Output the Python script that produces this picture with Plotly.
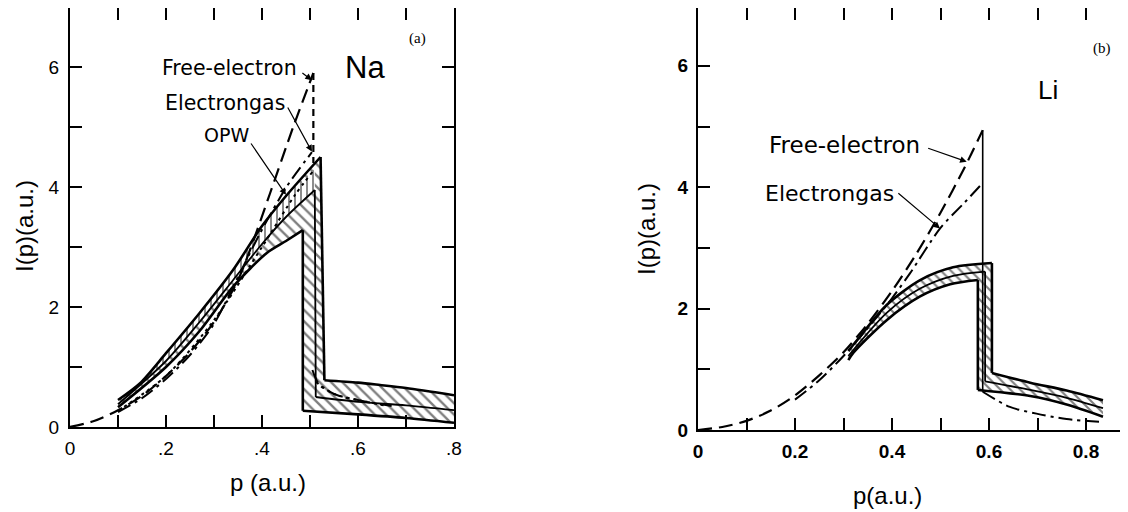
import plotly.graph_objects as go

# ---------------- data: (a) Na ----------------
na_free_p = [0, 0.05, 0.10, 0.15, 0.20, 0.25, 0.30, 0.35, 0.375, 0.417, 0.465, 0.507]
na_free_I = [0, 0.10, 0.28, 0.52, 0.85, 1.25, 1.75, 2.45, 2.95, 3.90, 5.00, 5.90]
na_free_drop_p = [0.507, 0.507]
na_free_drop_I = [5.90, 4.40]

na_egas_p = [0.10, 0.15, 0.20, 0.25, 0.30, 0.35, 0.396, 0.451, 0.504]
na_egas_I = [0.25, 0.48, 0.80, 1.20, 1.72, 2.50, 3.23, 4.00, 4.58]
na_egas_tail_p = [0.505, 0.52, 0.56, 0.62, 0.67]
na_egas_tail_I = [0.95, 0.70, 0.52, 0.42, 0.35]

na_opw_p = [0.10, 0.20, 0.30, 0.40, 0.469, 0.505]
na_opw_I = [0.27, 0.85, 1.78, 3.00, 3.87, 4.25]
na_opw_tail_p = [0.512, 0.55, 0.60, 0.66]
na_opw_tail_I = [0.75, 0.55, 0.45, 0.35]

na_upper_p = [0.10, 0.146, 0.20, 0.27, 0.34, 0.40, 0.45, 0.522]
na_upper_I = [0.45, 0.73, 1.23, 1.90, 2.62, 3.35, 3.85, 4.50]
na_middle_p = [0.10, 0.20, 0.27, 0.34, 0.40, 0.45, 0.51]
na_middle_I = [0.38, 1.10, 1.75, 2.45, 3.05, 3.50, 3.95]
na_lower_p = [0.10, 0.20, 0.27, 0.34, 0.41, 0.45, 0.485]
na_lower_I = [0.33, 1.00, 1.60, 2.34, 2.90, 3.10, 3.28]

na_tail_up_p = [0.53, 0.60, 0.646, 0.70, 0.80]
na_tail_up_I = [0.78, 0.74, 0.70, 0.65, 0.53]
na_tail_mid_p = [0.512, 0.60, 0.70, 0.80]
na_tail_mid_I = [0.50, 0.42, 0.36, 0.28]
na_tail_low_p = [0.485, 0.60, 0.70, 0.80]
na_tail_low_I = [0.27, 0.21, 0.15, 0.07]

# ---------------- data: (b) Li ----------------
li_free_p = [0, 0.05, 0.10, 0.15, 0.20, 0.25, 0.30, 0.35, 0.40, 0.45, 0.50, 0.55, 0.587]
li_free_I = [0, 0.05, 0.15, 0.32, 0.57, 0.90, 1.28, 1.75, 2.29, 2.90, 3.58, 4.33, 4.94]
li_drop_p = [0.587, 0.587]
li_drop_I = [4.94, 0.63]

li_egas_p = [0.20, 0.25, 0.30, 0.35, 0.40, 0.437, 0.50, 0.55, 0.587]
li_egas_I = [0.50, 0.82, 1.22, 1.68, 2.17, 2.58, 3.33, 3.75, 4.07]
li_egas_tail_p = [0.587, 0.643, 0.698, 0.76, 0.835]
li_egas_tail_I = [0.63, 0.38, 0.27, 0.18, 0.13]

li_upper_p = [0.31, 0.334, 0.389, 0.458, 0.526, 0.606]
li_upper_I = [1.30, 1.54, 2.06, 2.47, 2.68, 2.75]
li_middle_p = [0.31, 0.389, 0.458, 0.526, 0.592]
li_middle_I = [1.22, 1.93, 2.33, 2.54, 2.61]
li_lower_p = [0.31, 0.32, 0.389, 0.458, 0.52, 0.577]
li_lower_I = [1.15, 1.27, 1.81, 2.20, 2.40, 2.47]

li_tail_up_p = [0.606, 0.685, 0.76, 0.835]
li_tail_up_I = [0.94, 0.78, 0.65, 0.49]
li_tail_mid_p = [0.592, 0.685, 0.76, 0.835]
li_tail_mid_I = [0.80, 0.66, 0.53, 0.36]
li_tail_low_p = [0.577, 0.685, 0.76, 0.835]
li_tail_low_I = [0.66, 0.56, 0.42, 0.22]

# tick labels
na_xtick_vals = [0, 0.1, 0.2, 0.3, 0.4, 0.5, 0.6, 0.7, 0.8]
na_xtick_text = ["0", "", ".2", "", ".4", "", ".6", "", ".8"]
li_xtick_vals = [0, 0.1, 0.2, 0.3, 0.4, 0.5, 0.6, 0.7, 0.8]
li_xtick_text = ["0", "", "0.2", "", "0.4", "", "0.6", "", "0.8"]
ytick_vals = [0, 1, 2, 3, 4, 5, 6]
ytick_text = ["0", "", "2", "", "4", "", "6"]

FONT = "Liberation Sans"
TFONT = "DejaVu Sans"
BLACK = "black"
DASH_FREE = "14px,7px"
DASH_EGAS = "14px,5px,3px,5px"
DASH_OPW = "3px,4px"

W, H = 1128, 512
OFF = 8  # page body margin offset


def fx(px):
    return min(1.0, max(0.0, (px - OFF) / W))


def fy(py):
    return min(1.0, max(0.0, 1 - (py - OFF) / H))


fig = go.Figure()


def line(x, y, xa, ya, dash="solid", width=2.0, shape="spline"):
    fig.add_trace(go.Scatter(x=x, y=y, xaxis=xa, yaxis=ya, mode="lines",
                             line=dict(color=BLACK, width=width, dash=dash,
                                       shape=shape, smoothing=0.8),
                             showlegend=False, hoverinfo="skip"))


def band(xs, ys, xa, ya, shape, size=8, solidity=0.3):
    fig.add_trace(go.Scatter(x=xs, y=ys, xaxis=xa, yaxis=ya, mode="lines",
                             fill="toself", fillcolor="white",
                             fillpattern=dict(shape=shape, fgcolor=BLACK, bgcolor="white",
                                              size=size, solidity=solidity),
                             line=dict(color=BLACK, width=0),
                             showlegend=False, hoverinfo="skip"))


def outline(rise_p, rise_I, tail_p, tail_I, xa, ya, width):
    line(rise_p, rise_I, xa, ya, width=width)
    line([rise_p[-1], tail_p[0]], [rise_I[-1], tail_I[0]], xa, ya, width=width,
         shape="linear")
    line(tail_p, tail_I, xa, ya, width=width)


# ---- Na band polygons ----
na_outer_x = na_upper_p + na_tail_up_p + na_tail_low_p[::-1] + na_lower_p[::-1]
na_outer_y = na_upper_I + na_tail_up_I + na_tail_low_I[::-1] + na_lower_I[::-1]
band(na_outer_x, na_outer_y, "x", "y", "\\", 8, 0.3)
na_inner_x = na_upper_p[:-1] + [na_middle_p[-1]] + na_middle_p[::-1]
na_inner_y = na_upper_I[:-1] + [na_upper_I[-2] + 0.45] + na_middle_I[::-1]
band(na_inner_x, na_inner_y, "x", "y", "|", 6, 0.3)

outline(na_upper_p, na_upper_I, na_tail_up_p, na_tail_up_I, "x", "y", 2.6)
outline(na_lower_p, na_lower_I, na_tail_low_p, na_tail_low_I, "x", "y", 2.6)
outline(na_middle_p, na_middle_I, na_tail_mid_p, na_tail_mid_I, "x", "y", 1.8)

# theory curves Na
line(na_free_p, na_free_I, "x", "y", DASH_FREE, 2.2)
line(na_free_drop_p, na_free_drop_I, "x", "y", "7px,5px", 2.2, "linear")
line(na_egas_p, na_egas_I, "x", "y", DASH_EGAS, 2.0)
line(na_egas_tail_p, na_egas_tail_I, "x", "y", DASH_EGAS, 2.0)
line(na_opw_p, na_opw_I, "x", "y", DASH_OPW, 2.0)
line(na_opw_tail_p, na_opw_tail_I, "x", "y", DASH_OPW, 2.0)

# ---- Li band polygons ----
li_outer_x = li_upper_p + li_tail_up_p + li_tail_low_p[::-1] + li_lower_p[::-1]
li_outer_y = li_upper_I + li_tail_up_I + li_tail_low_I[::-1] + li_lower_I[::-1]
band(li_outer_x, li_outer_y, "x2", "y2", "\\", 7, 0.3)

outline(li_upper_p, li_upper_I, li_tail_up_p, li_tail_up_I, "x2", "y2", 2.6)
outline(li_lower_p, li_lower_I, li_tail_low_p, li_tail_low_I, "x2", "y2", 2.6)
outline(li_middle_p, li_middle_I, li_tail_mid_p, li_tail_mid_I, "x2", "y2", 1.8)

line(li_free_p, li_free_I, "x2", "y2", DASH_FREE, 2.2)
line(li_drop_p, li_drop_I, "x2", "y2", "solid", 1.6, "linear")
line(li_egas_p, li_egas_I, "x2", "y2", DASH_EGAS, 2.0)
line(li_egas_tail_p, li_egas_tail_I, "x2", "y2", DASH_EGAS, 2.0)


# ---- axes ----
def axis_common(bold=False):
    tf = dict(family=FONT, size=19, color=BLACK)
    if bold:
        tf["weight"] = "bold"
    return dict(showline=True, linecolor=BLACK, linewidth=2, mirror="allticks",
                ticks="inside", ticklen=12, tickwidth=2, tickcolor=BLACK,
                showgrid=False, zeroline=False, automargin=False, tickfont=tf)


# pixel scales
NA_PX_P, NA_PX_I, NA_Y0 = 480.0, 60.0, 427
LI_PX_P, LI_PX_I, LI_Y0 = 485.0, 60.7, 430

xa1 = axis_common()
xa1.update(domain=[fx(70), fx(454)], range=[0, 0.8], tickmode="array",
           tickvals=na_xtick_vals, ticktext=na_xtick_text, anchor="y",
           ticklabelstandoff=3)
ya1 = axis_common()
ya1.update(domain=[fy(NA_Y0), 1.0], range=[0, (NA_Y0 - OFF) / NA_PX_I], tickmode="array",
           tickvals=ytick_vals, ticktext=ytick_text, anchor="x",
           ticklabelstandoff=5)

xa2 = axis_common(True)
xa2.update(domain=[fx(698), 1.0], range=[0, (W + OFF - 698) / LI_PX_P], tickmode="array",
           tickvals=li_xtick_vals, ticktext=li_xtick_text, anchor="y2",
           ticklabelstandoff=3)
ya2 = axis_common(True)
ya2.update(domain=[fy(LI_Y0), 1.0], range=[0, (LI_Y0 - OFF) / LI_PX_I], tickmode="array",
           tickvals=ytick_vals, ticktext=ytick_text, anchor="x2",
           ticklabelstandoff=4)

annotations = []


def text(x, y, s, xr, yr, size=18, family=TFONT, angle=0):
    annotations.append(dict(x=x, y=y, xref=xr, yref=yr, text=s, showarrow=False,
                            textangle=angle, xanchor="center", yanchor="middle",
                            font=dict(family=family, size=size, color=BLACK)))


def arrow(x0, y0, x1, y1, xr, yr):
    annotations.append(dict(x=x1, y=y1, ax=x0, ay=y0, xref=xr, yref=yr,
                            axref=xr, ayref=yr, text="", showarrow=True,
                            arrowhead=2, arrowsize=1.1, arrowwidth=1.2,
                            arrowcolor=BLACK))


# Na labels
text(0.333, 5.98, "Free-electron", "x", "y", 20.5)
arrow(0.481, 5.92, 0.504, 5.78, "x", "y")
text(0.323, 5.40, "Electrongas", "x", "y", 20.5)
arrow(0.452, 5.35, 0.504, 4.59, "x", "y")
text(0.325, 4.87, "OPW", "x", "y", 19)
arrow(0.375, 4.75, 0.450, 3.87, "x", "y")
text(0.615, 6.0, "Na", "x", "y", 31, FONT)
text(0.723, 6.47, "(a)", "x", "y", 15, "Liberation Serif")

# Li labels
text(0.303, 4.70, "Free-electron", "x2", "y2", 23)
arrow(0.4715, 4.65, 0.554, 4.42, "x2", "y2")
text(0.272, 3.90, "Electrongas", "x2", "y2", 22)
arrow(0.410, 3.92, 0.499, 3.32, "x2", "y2")
text(0.722, 5.60, "Li", "x2", "y2", 26, FONT)
text(0.833, 6.28, "(b)", "x2", "y2", 15, "Liberation Serif")

# axis titles
text(fx(24), fy(226), "I(p)(a.u.)", "paper", "paper", 24, FONT, -90)
text(fx(268), fy(482), "p (a.u.)", "paper", "paper", 24, FONT)
text(fx(646), fy(229), "I(p)(a.u.)", "paper", "paper", 24, FONT, -90)
text(fx(887), fy(495), "p(a.u.)", "paper", "paper", 24, FONT)

fig.update_layout(width=W, height=H, margin=dict(l=0, r=0, t=0, b=0),
                  paper_bgcolor="white", plot_bgcolor="white",
                  xaxis=xa1, yaxis=ya1, xaxis2=xa2, yaxis2=ya2,
                  annotations=annotations, showlegend=False)

fig.write_html("out.html")
